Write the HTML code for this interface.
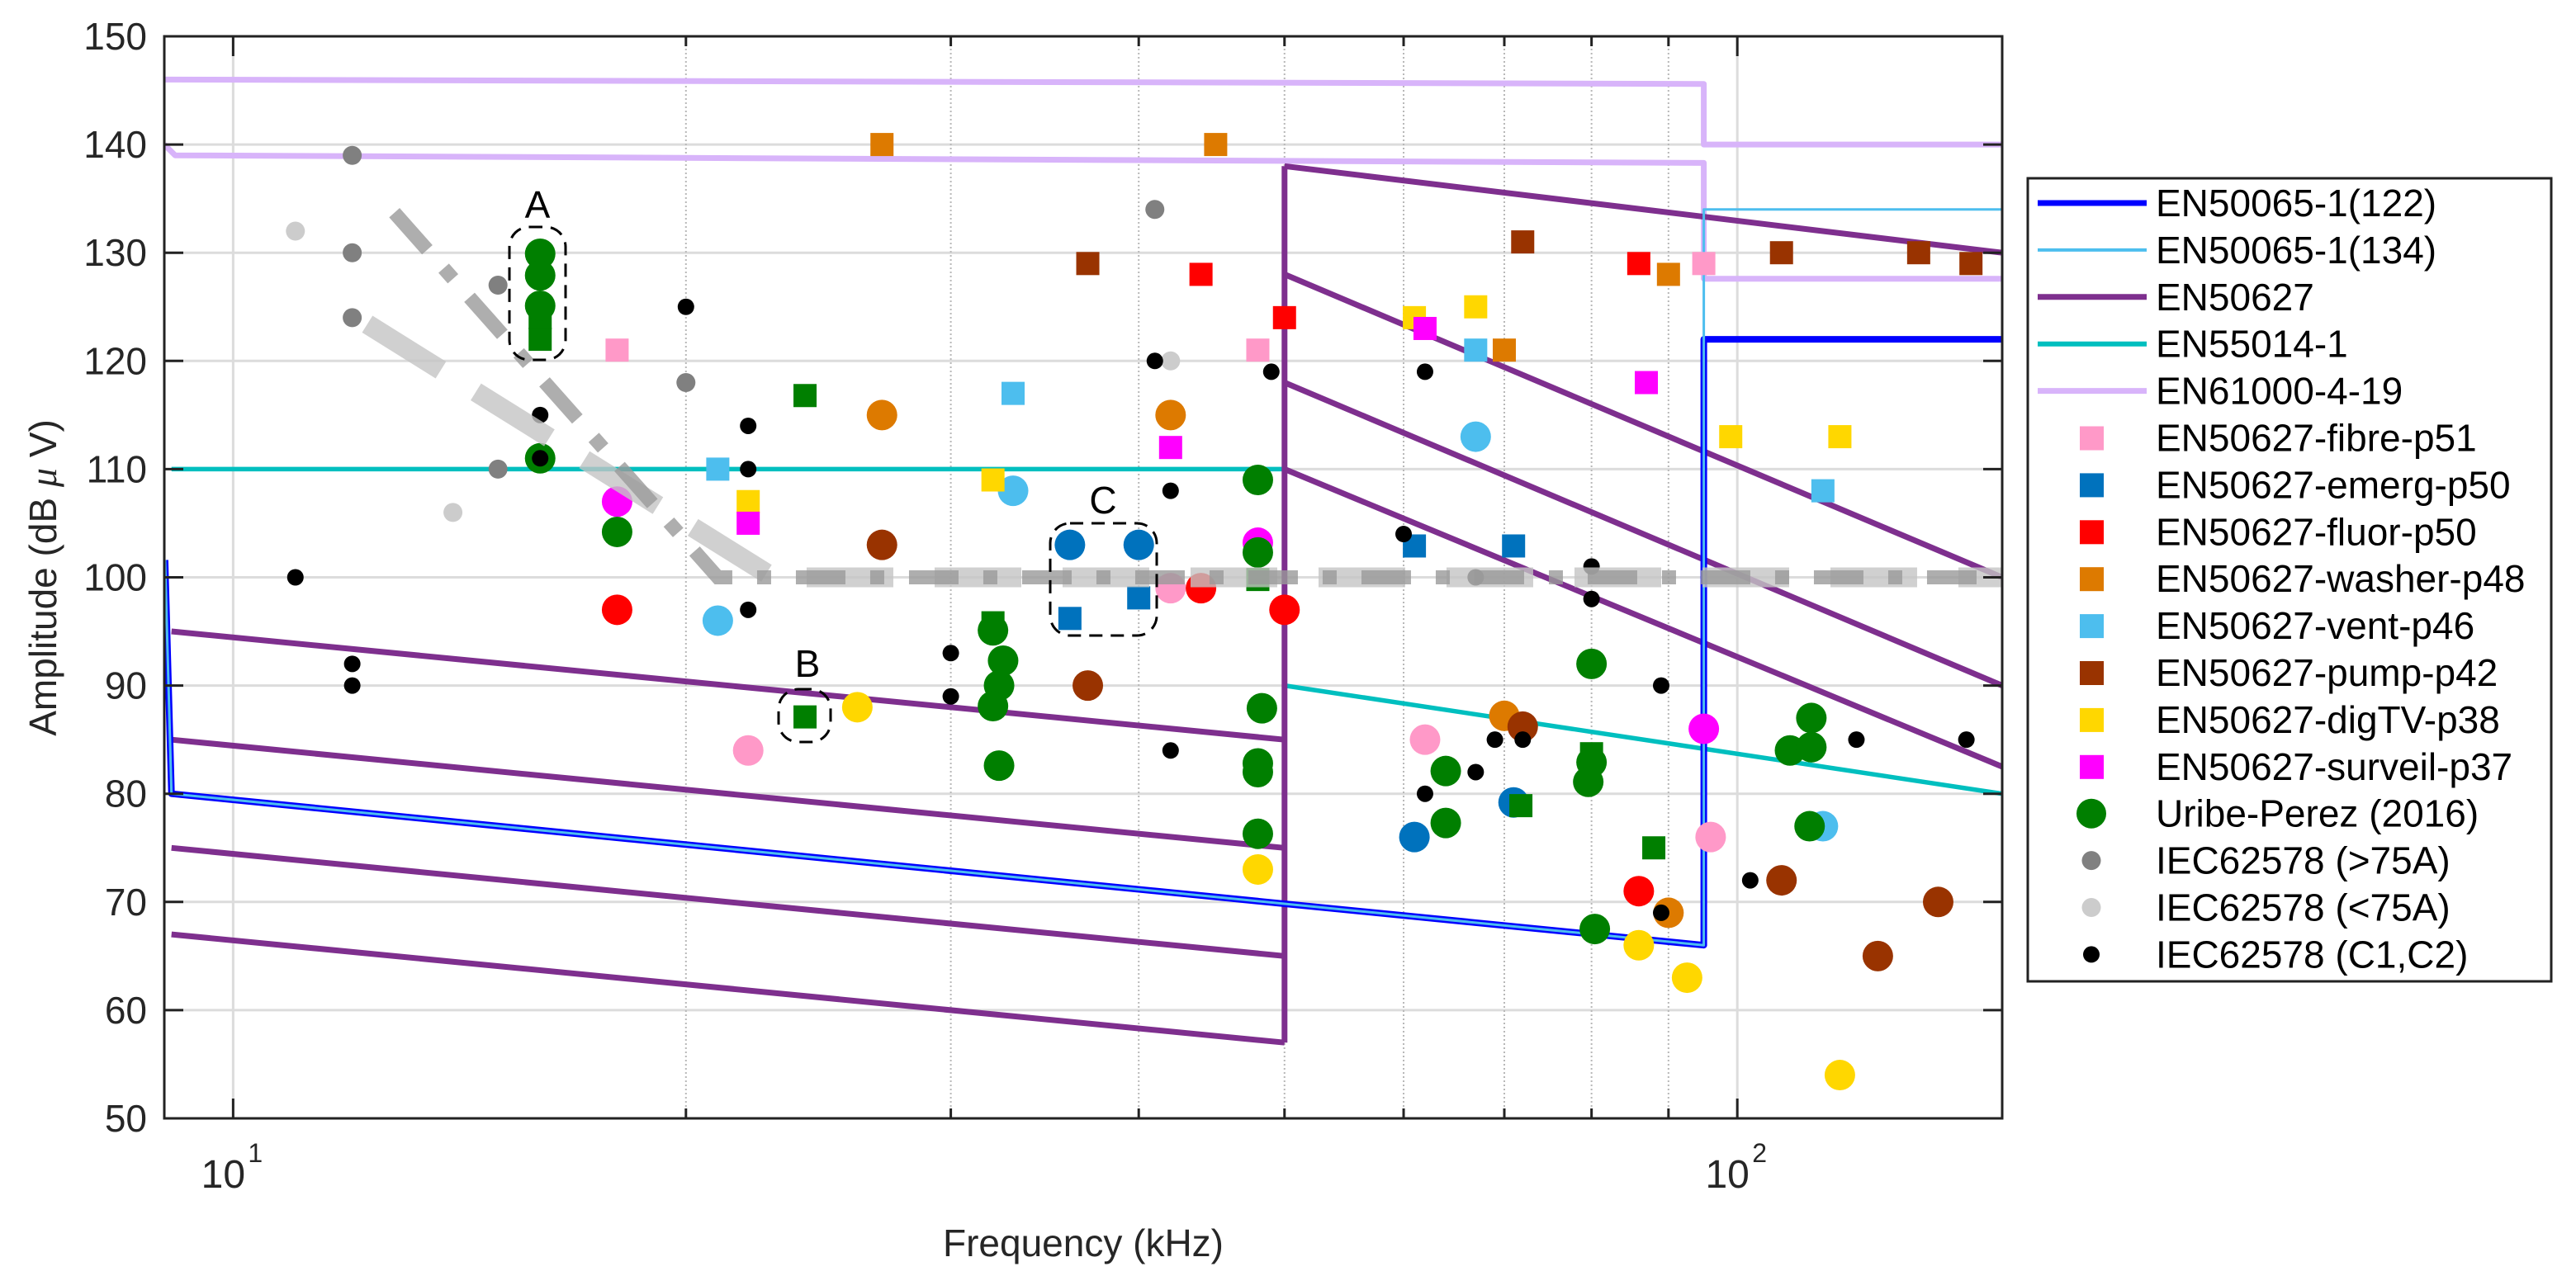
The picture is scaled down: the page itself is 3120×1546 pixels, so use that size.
<!DOCTYPE html>
<html><head><meta charset="utf-8"><title>Amplitude vs frequency chart</title>
<style>
html,body{margin:0;padding:0;background:#fff;}
svg{display:block;font-family:"Liberation Sans",Arial,sans-serif;}
</style></head>
<body>
<svg id="chart" width="3120" height="1546" viewBox="0 0 3120 1546" xmlns="http://www.w3.org/2000/svg">
<defs><clipPath id="plotclip"><rect x="199" y="44" width="2226" height="1311"/></clipPath></defs>
<rect x="0" y="0" width="3120" height="1546" fill="#fff"/>
<g id="grid"></g>
<g id="lines" clip-path="url(#plotclip)"></g>
<g id="marks" clip-path="url(#plotclip)"></g>
<g id="overlay" clip-path="url(#plotclip)"></g>
<g id="annot"></g>
<g id="axes"></g>
<g id="legend"></g>
</svg>
<script>
// ---------- axis ranges ----------
const xDomain = [9, 150];
const yDomain = [50, 150];
const yTicks = [50, 60, 70, 80, 90, 100, 110, 120, 130, 140, 150];
const xMajorTicks = [10, 100];
const xMajorLabels = ["1", "2"];
const xMinorTicks = [20, 30, 40, 50, 60, 70, 80, 90];

// ---------- limit lines (kHz, dBuV) ----------
const en50065_122F = [9.01, 9.1, 95, 95, 150];
const en50065_122Db = [101.6, 80, 66, 122, 122];
const en50065_134F = [9.01, 9.1, 95, 95, 150];
const en50065_134Db = [101.6, 80, 66, 134, 134];
const en50627aF = [9.1, 50]; const en50627aDb = [95, 85];
const en50627bF = [9.1, 50]; const en50627bDb = [85, 75];
const en50627cF = [9.1, 50]; const en50627cDb = [75, 65];
const en50627dF = [9.1, 50]; const en50627dDb = [67, 57];
const en50627vF = [50, 50]; const en50627vDb = [57, 138];
const en50627eF = [50, 150]; const en50627eDb = [138, 130];
const en50627fF = [50, 150]; const en50627fDb = [128, 100];
const en50627gF = [50, 150]; const en50627gDb = [118, 90];
const en50627hF = [50, 150]; const en50627hDb = [110, 82.5];
const en55014F = [9.1, 50, 50, 150];
const en55014Db = [110, 110, 90, 80];
const en61000aF = [9, 95, 95, 150];
const en61000aDb = [146, 145.6, 140, 140];
const en61000bF = [9, 9.15, 95, 95, 150];
const en61000bDb = [140, 139, 138.3, 127.6, 127.6];
const trendDarkF = [12.8, 21.0, 150];
const trendDarkDb = [133.7, 100, 100];
const trendLightF = [12.28, 22.85, 150];
const trendLightDb = [123.4, 100, 100];

// ---------- markers ----------
const fibreSqF = [18, 48, 95];            const fibreSqDb = [121, 121, 129];
const fibreCiF = [22, 42, 62, 96];        const fibreCiDb = [84, 99, 85, 76];
const emergSqF = [36, 40, 61, 71];        const emergSqDb = [96.2, 98.1, 102.9, 102.9];
const emergCiF = [36, 40, 61, 71];        const emergCiDb = [103, 103, 76, 79.2];
const fluorSqF = [44, 50, 86];            const fluorSqDb = [128, 124, 129];
const fluorCiF = [18, 44, 50, 86];        const fluorCiDb = [97, 99, 97, 71];
const washerSqF = [27, 45, 70, 90];       const washerSqDb = [140, 140, 121, 128];
const washerCiF = [27, 42, 70, 90];       const washerCiDb = [115, 115, 87.2, 69];
const ventSqF = [21, 33, 67, 114];        const ventSqDb = [110, 117, 121, 108];
const ventCiF = [21, 33, 67, 114];        const ventCiDb = [96, 108, 113, 77];
const pumpSqF = [37, 72, 107, 132, 143];  const pumpSqDb = [129, 131, 130, 130, 129];
const pumpCiF = [27, 37, 72, 107, 124, 136]; const pumpCiDb = [103, 90, 86.2, 72, 65, 70];
const digtvSqF = [22, 32, 61, 67, 99, 117]; const digtvSqDb = [107, 109, 124, 125, 113, 113];
const digtvCiF = [26, 48, 86, 92.6, 117]; const digtvCiDb = [88, 73, 66, 63, 54];
const surveilSqF = [22, 42, 62, 87];      const surveilSqDb = [105, 112, 123, 118];
const surveilCiF = [18, 48, 95];          const surveilCiDb = [107, 103.2, 86];
const uribeSqF = [16, 16, 24, 24, 32, 48, 71.8, 80, 88];
const uribeSqDb = [122, 124, 116.8, 87.1, 95.8, 99.8, 78.9, 83.7, 75];
const uribeCiF = [16, 16, 16, 16, 18, 32, 32.5, 32.3, 32, 32.3, 48, 48, 48.3, 48, 48, 48, 64, 64, 80, 80, 79.6, 80.4, 108.4, 112, 112, 111.7];
const uribeCiDb = [129.9, 127.9, 125.1, 111, 104.2, 95.1, 92.3, 90, 88.1, 82.6, 109, 102.3, 87.9, 82.8, 82, 76.3, 82.1, 77.3, 92, 82.9, 81.1, 67.5, 84, 87, 84.3, 77];
const iecHighF = [12, 12, 12, 15, 15, 20, 41];
const iecHighDb = [139, 130, 124, 127, 110, 118, 134];
const iecLowF = [11, 14, 42];
const iecLowDb = [132, 106, 120];
const iecC12F = [11, 12, 12, 16, 16, 20, 22, 22, 22, 30, 30, 41, 42, 42, 49, 60, 62, 62, 67, 67, 69, 72, 80, 80, 89, 89, 102, 120, 142];
const iecC12Db = [100, 92, 90, 115, 111, 125, 114, 110, 97, 93, 89, 120, 108, 84, 119, 104, 119, 80, 100, 82, 85, 85, 101, 98, 90, 69, 72, 85, 85];

// ---------- scales ----------
const PX0 = 199, PX1 = 2425, PY0 = 44, PY1 = 1355;
function X(f){ const a=Math.log10(xDomain[0]), b=Math.log10(xDomain[1]); return PX0 + (Math.log10(f)-a)/(b-a)*(PX1-PX0); }
function Y(d){ return PY1 - (d-yDomain[0])/(yDomain[1]-yDomain[0])*(PY1-PY0); }

const NS = "http://www.w3.org/2000/svg";
function mk(tag, parent, attrs){ const e=document.createElementNS(NS,tag); for(const k in attrs) e.setAttribute(k, attrs[k]); parent.appendChild(e); return e; }
const gGrid=document.getElementById('grid'), gLines=document.getElementById('lines'), gMarks=document.getElementById('marks'),
      gOv=document.getElementById('overlay'), gAnn=document.getElementById('annot'), gAx=document.getElementById('axes'), gLeg=document.getElementById('legend');

// grid
yTicks.forEach(v=>{ if(v===50||v===150) return;
  const l=mk('line',gGrid,{x1:PX0,x2:PX1,y1:Y(v),y2:Y(v),stroke:'#dcdcdc','stroke-width':3});
    });
xMajorTicks.forEach(v=>{
  const l=mk('line',gGrid,{x1:X(v),x2:X(v),y1:PY0,y2:PY1,stroke:'#dcdcdc','stroke-width':3});
    });
xMinorTicks.forEach(v=>{
  const l=mk('line',gGrid,{x1:X(v),x2:X(v),y1:PY0,y2:PY1,stroke:'#b8b8b8','stroke-width':2,'stroke-dasharray':'2 3'});
    });

function poly(parent, F, D, color, w, name, extra){
  const pts=F.map((f,i)=>X(f).toFixed(1)+','+Y(D[i]).toFixed(1)).join(' ');
  const p=mk('polyline',parent,Object.assign({points:pts,fill:'none',stroke:color,'stroke-width':w,'stroke-linejoin':'round'},extra||{}));
   
  return p;
}
const PURPLE='#7e2f8e', BLUE='#0000ff', LBLUE='#4dbeee', CYAN='#00bfbf', LAV='#d8b4fa';
poly(gLines,en61000aF,en61000aDb,LAV,7,'en61000-4-19-line-upper');
poly(gLines,en61000bF,en61000bDb,LAV,7,'en61000-4-19-line-lower');
poly(gLines,en55014F,en55014Db,CYAN,5.5,'en55014-1-line');
poly(gLines,en50627aF,en50627aDb,PURPLE,7,'en50627-line-1');
poly(gLines,en50627bF,en50627bDb,PURPLE,7,'en50627-line-2');
poly(gLines,en50627cF,en50627cDb,PURPLE,7,'en50627-line-3');
poly(gLines,en50627dF,en50627dDb,PURPLE,7,'en50627-line-4');
poly(gLines,en50627vF,en50627vDb,PURPLE,7,'en50627-step');
poly(gLines,en50627eF,en50627eDb,PURPLE,7,'en50627-line-5');
poly(gLines,en50627fF,en50627fDb,PURPLE,7,'en50627-line-6');
poly(gLines,en50627gF,en50627gDb,PURPLE,7,'en50627-line-7');
poly(gLines,en50627hF,en50627hDb,PURPLE,7,'en50627-line-8');
poly(gLines,en50065_122F,en50065_122Db,BLUE,8,'en50065-1-122-line');
poly(gLines,en50065_134F,en50065_134Db,LBLUE,3,'en50065-1-134-line');

// markers
function squares(F,D,color,name){ F.forEach((f,i)=>{ const s=28;
  const r=mk('rect',gMarks,{x:X(f)-s/2,y:Y(D[i])-s/2,width:s,height:s,fill:color});
    }); }
function circles(F,D,color,rad,name){ F.forEach((f,i)=>{
  const c=mk('circle',gMarks,{cx:X(f),cy:Y(D[i]),r:rad,fill:color});
    }); }
const C={fibre:'#ff99c8',emerg:'#0072bd',fluor:'#ff0000',washer:'#dd7a00',vent:'#4dbeee',pump:'#993300',digtv:'#ffd700',surveil:'#ff00ff',uribe:'#007f00'};
squares(fibreSqF,fibreSqDb,C.fibre,'fibre-square'); circles(fibreCiF,fibreCiDb,C.fibre,18.5,'fibre-circle');
squares(emergSqF,emergSqDb,C.emerg,'emerg-square'); circles(emergCiF,emergCiDb,C.emerg,18.5,'emerg-circle');
squares(fluorSqF,fluorSqDb,C.fluor,'fluor-square'); circles(fluorCiF,fluorCiDb,C.fluor,18.5,'fluor-circle');
squares(washerSqF,washerSqDb,C.washer,'washer-square'); circles(washerCiF,washerCiDb,C.washer,18.5,'washer-circle');
squares(ventSqF,ventSqDb,C.vent,'vent-square'); circles(ventCiF,ventCiDb,C.vent,18.5,'vent-circle');
squares(pumpSqF,pumpSqDb,C.pump,'pump-square'); circles(pumpCiF,pumpCiDb,C.pump,18.5,'pump-circle');
squares(digtvSqF,digtvSqDb,C.digtv,'digtv-square'); circles(digtvCiF,digtvCiDb,C.digtv,18.5,'digtv-circle');
squares(surveilSqF,surveilSqDb,C.surveil,'surveil-square'); circles(surveilCiF,surveilCiDb,C.surveil,18.5,'surveil-circle');
squares(uribeSqF,uribeSqDb,C.uribe,'uribe-square'); circles(uribeCiF,uribeCiDb,C.uribe,18.5,'uribe-circle');
circles(iecHighF,iecHighDb,'#808080',11.5,'iec62578-high-point');
circles(iecLowF,iecLowDb,'#cccccc',11.5,'iec62578-low-point');
circles(iecC12F,iecC12Db,'#000000',10,'iec62578-c1c2-point');

// trend overlays (gray dashed)
poly(gOv,trendLightF,trendLightDb,'#c4c4c4',24,'trend-light-dashed',{'stroke-dasharray':'105 50','stroke-opacity':'0.8','stroke-linejoin':'miter'});
poly(gOv,trendDarkF,trendDarkDb,'#9a9a9a',17,'trend-dark-dashdot',{'stroke-dasharray':'60 30 17 30','stroke-opacity':'0.8','stroke-linejoin':'miter'});

// annotation boxes
function annBox(x,y,w,h,label,lx,ly,name){
  const r=mk('rect',gAnn,{x:x,y:y,width:w,height:h,rx:24,ry:24,fill:'none',stroke:'#000','stroke-width':3,'stroke-dasharray':'16 10'});
   
  const t=mk('text',gAnn,{x:lx,y:ly,'font-size':46,'text-anchor':'middle',fill:'#000'}); t.textContent=label;
   
}
annBox(617,275,68,161,'A',651,264,'annotation-a');
annBox(943,835,63,64,'B',978,820,'annotation-b');
annBox(1272,634,129,136,'C',1336,622,'annotation-c');

// axes box and ticks
const box=mk('rect',gAx,{x:PX0,y:PY0,width:PX1-PX0,height:PY1-PY0,fill:'none',stroke:'#222','stroke-width':3});
 
yTicks.forEach(v=>{
  const y=Y(v);
  const t1=mk('line',gAx,{x1:PX0,x2:PX0+23,y1:y,y2:y,stroke:'#222','stroke-width':3});
   
  const t2=mk('line',gAx,{x1:PX1-23,x2:PX1,y1:y,y2:y,stroke:'#222','stroke-width':3});
   
  const tl=mk('text',gAx,{x:178,y:y+16,'font-size':46,'text-anchor':'end',fill:'#262626'}); tl.textContent=String(v);
   
});
xMajorTicks.forEach((v,i)=>{
  const x=X(v);
  const t1=mk('line',gAx,{x1:x,x2:x,y1:PY1,y2:PY1-24,stroke:'#222','stroke-width':3});
   
  const t2=mk('line',gAx,{x1:x,x2:x,y1:PY0,y2:PY0+24,stroke:'#222','stroke-width':3});
   
  const tl=mk('text',gAx,{x:x-12,y:1439,'font-size':48,'text-anchor':'middle',fill:'#262626'}); tl.textContent='10';
   
  const sp=mk('text',gAx,{x:x+18,y:1408,'font-size':32,fill:'#262626'}); sp.textContent=xMajorLabels[i];
   
});
xMinorTicks.forEach(v=>{
  const x=X(v);
  const t1=mk('line',gAx,{x1:x,x2:x,y1:PY1,y2:PY1-12,stroke:'#222','stroke-width':3});
   
  const t2=mk('line',gAx,{x1:x,x2:x,y1:PY0,y2:PY0+12,stroke:'#222','stroke-width':3});
   
});
const xt=mk('text',gAx,{x:1312,y:1522,'font-size':46,'text-anchor':'middle',fill:'#262626'}); xt.textContent='Frequency (kHz)';
 
const yt=mk('text',gAx,{x:0,y:0,'font-size':46,'text-anchor':'middle',fill:'#262626',transform:'translate(68,700) rotate(-90)'});
 
yt.appendChild(document.createTextNode('Amplitude (dB '));
const mu=mk('tspan',yt,{'font-style':'italic','font-family':'"Liberation Serif",serif'}); mu.textContent='μ';
yt.appendChild(document.createTextNode(' V)'));

// legend
const legLabels = ["EN50065-1(122)","EN50065-1(134)","EN50627","EN55014-1","EN61000-4-19","EN50627-fibre-p51","EN50627-emerg-p50","EN50627-fluor-p50","EN50627-washer-p48","EN50627-vent-p46","EN50627-pump-p42","EN50627-digTV-p38","EN50627-surveil-p37","Uribe-Perez (2016)","IEC62578 (>75A)","IEC62578 (<75A)","IEC62578 (C1,C2)"];
const legKinds = [['line',BLUE,7],['line',LBLUE,4],['line',PURPLE,7],['line',CYAN,6],['line',LAV,7],
 ['sq',C.fibre],['sq',C.emerg],['sq',C.fluor],['sq',C.washer],['sq',C.vent],['sq',C.pump],['sq',C.digtv],['sq',C.surveil],
 ['ci',C.uribe,18],['ci','#808080',11.5],['ci','#cccccc',11.5],['ci','#000',10]];
const lb=mk('rect',gLeg,{x:2456,y:216,width:634,height:973,fill:'#fff',stroke:'#222','stroke-width':3});
 
legLabels.forEach((lab,k)=>{
  const y=246+56.9*k, kind=legKinds[k];
  const g=mk('g',gLeg,{});
   
  if(kind[0]==='line'){ const l=mk('line',g,{x1:2468,x2:2600,y1:y,y2:y,stroke:kind[1],'stroke-width':kind[2]});
      }
  else if(kind[0]==='sq'){ const r=mk('rect',g,{x:2519,y:y-14,width:29,height:29,fill:kind[1]});
      }
  else { const c=mk('circle',g,{cx:2533,cy:y,r:kind[2],fill:kind[1]});
      }
  const t=mk('text',g,{x:2611,y:y+16,'font-size':46,fill:'#000'}); t.textContent=lab;
   
});
</script>
</body></html>
